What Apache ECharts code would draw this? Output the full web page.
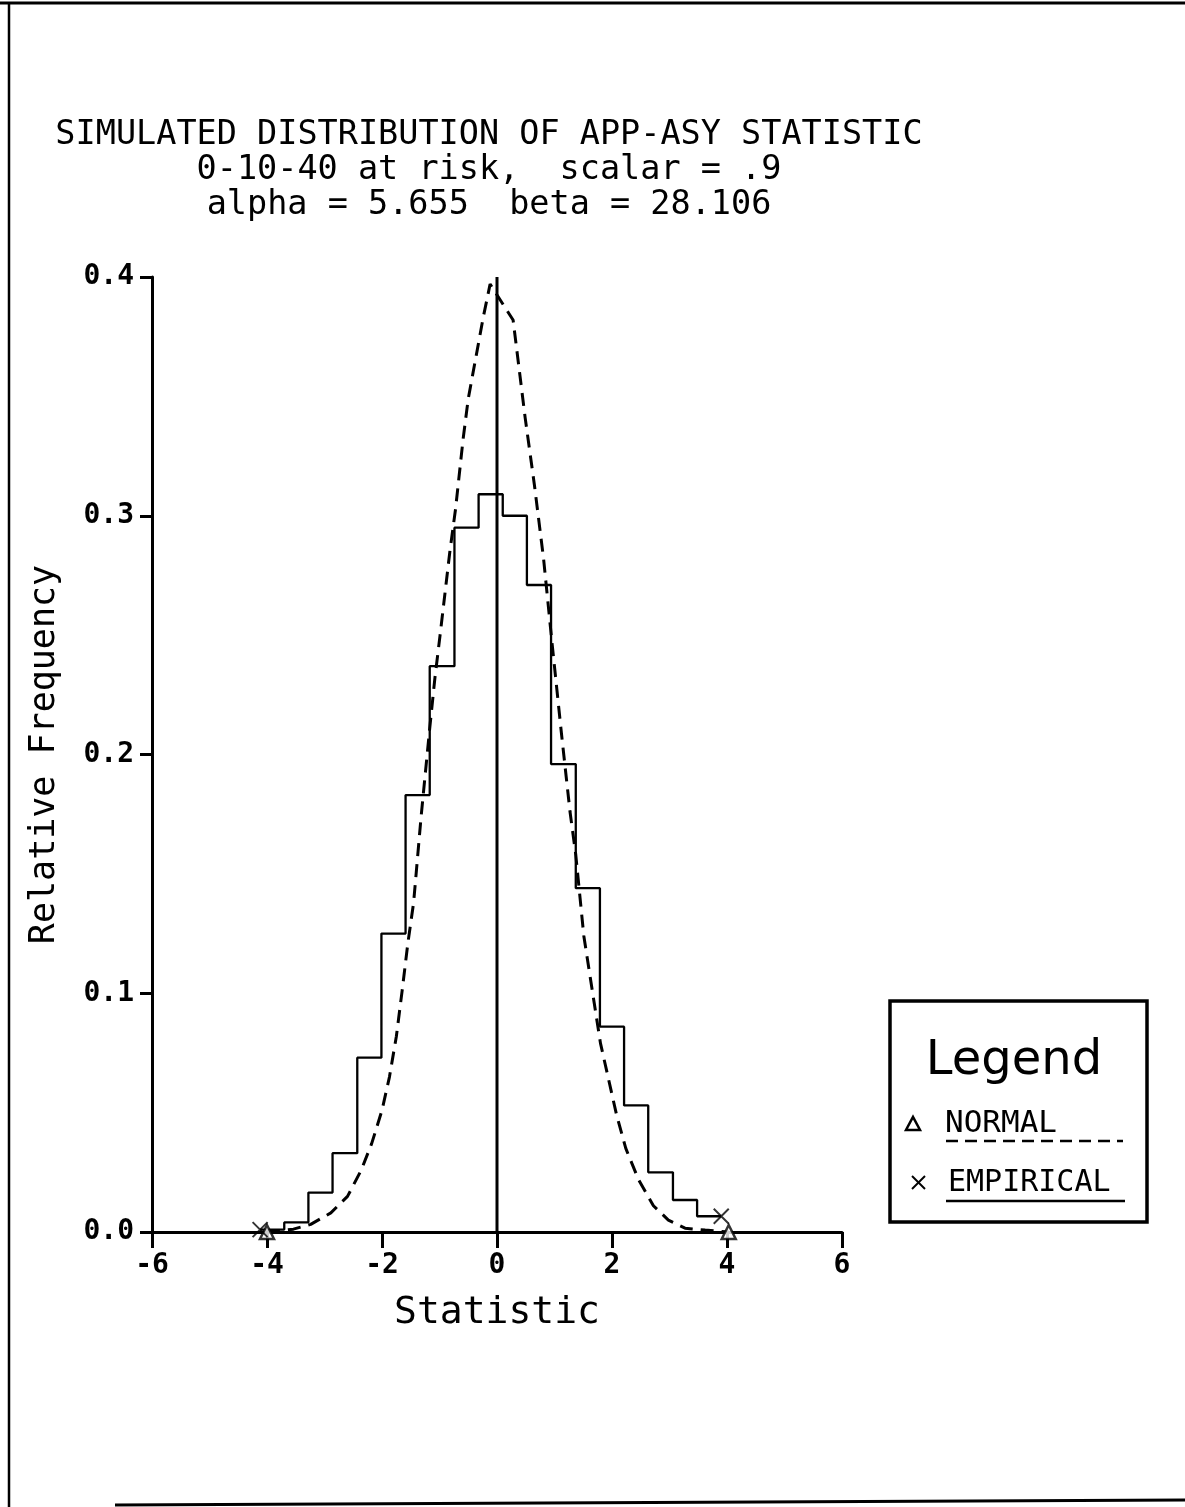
<!DOCTYPE html>
<html><head><meta charset="utf-8">
<script src="https://cdn.jsdelivr.net/npm/echarts@6/dist/echarts.min.js"></script>
<style>html,body{margin:0;padding:0;background:#fff}#c{width:1185px;height:1507px}</style>
</head><body><div id="c"></div>
<script>
// ---- data ----
const titleLines = [
  'SIMULATED DISTRIBUTION OF APP-ASY STATISTIC',
  '0-10-40 at risk,  scalar = .9',
  'alpha = 5.655  beta = 28.106'
];
const xAxisName = 'Statistic';
const yAxisName = 'Relative Frequency';
const legendTitle = 'Legend';
const seriesNames = ['NORMAL', 'EMPIRICAL'];

const binEdges = [-4.12, -3.70, -3.28, -2.86, -2.43, -2.01, -1.59, -1.17, -0.74, -0.32,
                   0.10, 0.52, 0.94, 1.37, 1.79, 2.21, 2.63, 3.06, 3.48, 3.90];
const empiricalFreq = [0.001, 0.004, 0.0165, 0.033, 0.073, 0.125, 0.183, 0.237, 0.295, 0.309,
                       0.300, 0.271, 0.196, 0.144, 0.086, 0.053, 0.025, 0.0134, 0.0066];

const normalX = [-4.00, -3.54, -3.24, -2.89, -2.60, -2.36, -2.18, -2.00, -1.87, -1.75, -1.65,
                 -1.55, -1.45, -1.32, -1.17, -1.08, -0.99, -0.82, -0.72, -0.59, -0.50, -0.37,
                 -0.24, -0.12, 0.28, 0.49, 0.65, 0.81, 0.96, 1.12, 1.27, 1.37, 1.51, 1.69,
                 1.80, 1.94, 2.08, 2.24, 2.46, 2.72, 2.98, 3.27, 3.62, 4.03];
const normalY = [0.000, 0.0012, 0.0032, 0.0080, 0.0149, 0.026, 0.037, 0.051, 0.065, 0.082, 0.101,
                 0.121, 0.138, 0.174, 0.211, 0.232, 0.250, 0.285, 0.303, 0.332, 0.349, 0.366,
                 0.383, 0.397, 0.382, 0.341, 0.313, 0.282, 0.246, 0.209, 0.176, 0.158, 0.124, 0.096,
                 0.079, 0.064, 0.049, 0.035, 0.022, 0.011, 0.005, 0.0016, 0.0008, 0.000];

const xMin = -6, xMax = 6, xStep = 2;
const yMin = 0, yMax = 0.4, yStep = 0.1;
const refLineX = 0;

// ---- build series data ----
const histPts = [];
for (let i = 0; i < empiricalFreq.length; i++) {
  histPts.push([binEdges[i], empiricalFreq[i]]);
  histPts.push([binEdges[i + 1], empiricalFreq[i]]);
}
const normalPts = normalX.map((x, i) => [x, normalY[i]]);
const normalEnds = [normalPts[0], normalPts[normalPts.length - 1]];
const empEnds = [histPts[0], histPts[histPts.length - 1]];

const mono = 'DejaVu Sans Mono';
const black = '#000';
const crossPath = 'path://M0,0L10,10M10,0L0,10';

const chart = echarts.init(document.getElementById('c'), null, {renderer: 'canvas'});
chart.setOption({
  animation: false,
  backgroundColor: '#fff',
  title: {
    text: titleLines.join('\n'),
    left: 484, top: 113, textAlign: 'center',
    textStyle: {fontFamily: mono, fontSize: 33.5, fontWeight: 'normal', color: black, lineHeight: 35}
  },
  grid: {left: 152, right: 343, top: 277, bottom: 275, containLabel: false},
  xAxis: {
    type: 'value', min: xMin, max: xMax, interval: xStep,
    name: xAxisName, nameLocation: 'middle', nameGap: 62,
    nameTextStyle: {fontFamily: mono, fontSize: 38, color: black},
    axisLine: {onZero: false, lineStyle: {color: black, width: 3}},
    axisTick: {show: true, inside: false, length: 16, lineStyle: {color: black, width: 3}},
    axisLabel: {fontFamily: mono, fontSize: 28, fontWeight: 'bold', color: black, margin: 20,
                formatter: v => String(v)},
    splitLine: {show: false}
  },
  yAxis: {
    type: 'value', min: yMin, max: yMax, interval: yStep,
    name: yAxisName, nameLocation: 'middle', nameGap: 90, nameRotate: 90,
    nameTextStyle: {fontFamily: mono, fontSize: 35, color: black},
    axisLine: {show: true, onZero: false, lineStyle: {color: black, width: 3}},
    axisTick: {show: true, inside: false, length: 12, lineStyle: {color: black, width: 3}},
    axisLabel: {fontFamily: mono, fontSize: 28, fontWeight: 'bold', color: black, margin: 18,
                formatter: v => v.toFixed(1)},
    splitLine: {show: false}
  },
  series: [
    {
      name: 'zero', type: 'line', clip: false, symbol: 'none', silent: true,
      data: [[refLineX, yMin], [refLineX, yMax]],
      lineStyle: {color: black, width: 3}
    },
    {
      name: seriesNames[1], type: 'line', clip: false, symbol: 'none',
      data: histPts,
      lineStyle: {color: black, width: 2.3}
    },
    {
      name: seriesNames[0], type: 'line', clip: false, symbol: 'none',
      data: normalPts,
      lineStyle: {color: black, width: 3, type: [13, 8]}
    },
    {
      name: seriesNames[0] + ' ends', type: 'scatter', clip: false,
      symbol: 'triangle', symbolSize: 14, data: normalEnds,
      itemStyle: {color: '#fff', borderColor: black, borderWidth: 2.5}, z: 5
    },
    {
      name: seriesNames[1] + ' ends', type: 'scatter', clip: false,
      symbol: crossPath, symbolSize: 15, data: empEnds,
      itemStyle: {color: 'none', borderColor: black, borderWidth: 2}, z: 6
    }
  ],
  graphic: [
    // page frame
    {type: 'line', shape: {x1: 0, y1: 3, x2: 1185, y2: 3}, style: {stroke: black, lineWidth: 3}},
    {type: 'line', shape: {x1: 9, y1: 3, x2: 9, y2: 1507}, style: {stroke: black, lineWidth: 2.5}},
    {type: 'line', shape: {x1: 115, y1: 1505, x2: 1185, y2: 1500}, style: {stroke: black, lineWidth: 3}},
    // legend box
    {type: 'rect', shape: {x: 890, y: 1001, width: 257, height: 221},
     style: {fill: '#fff', stroke: black, lineWidth: 3.5}, z: 10},
    {type: 'text', x: 1014, y: 1062, z: 11,
     style: {text: legendTitle, fontFamily: 'DejaVu Sans', fontSize: 48, fill: black,
             textAlign: 'center', textVerticalAlign: 'middle'}},
    {type: 'polygon', z: 11, shape: {points: [[906, 1130], [920, 1130], [913, 1117]]},
     style: {fill: 'none', stroke: black, lineWidth: 2.5}},
    {type: 'text', x: 945, y: 1124, z: 11,
     style: {text: seriesNames[0], fontFamily: mono, fontSize: 31, fill: black,
             textAlign: 'left', textVerticalAlign: 'middle'}},
    {type: 'line', z: 11, shape: {x1: 946, y1: 1141, x2: 1123, y2: 1141},
     style: {stroke: black, lineWidth: 2.5, lineDash: [12, 7]}},
    {type: 'line', z: 11, shape: {x1: 912, y1: 1176, x2: 925, y2: 1189}, style: {stroke: black, lineWidth: 2}},
    {type: 'line', z: 11, shape: {x1: 925, y1: 1176, x2: 912, y2: 1189}, style: {stroke: black, lineWidth: 2}},
    {type: 'text', x: 948, y: 1183, z: 11,
     style: {text: seriesNames[1], fontFamily: mono, fontSize: 30, fill: black,
             textAlign: 'left', textVerticalAlign: 'middle'}},
    {type: 'line', z: 11, shape: {x1: 946, y1: 1201, x2: 1125, y2: 1201},
     style: {stroke: black, lineWidth: 2.5}}
  ]
});
</script>
</body></html>
